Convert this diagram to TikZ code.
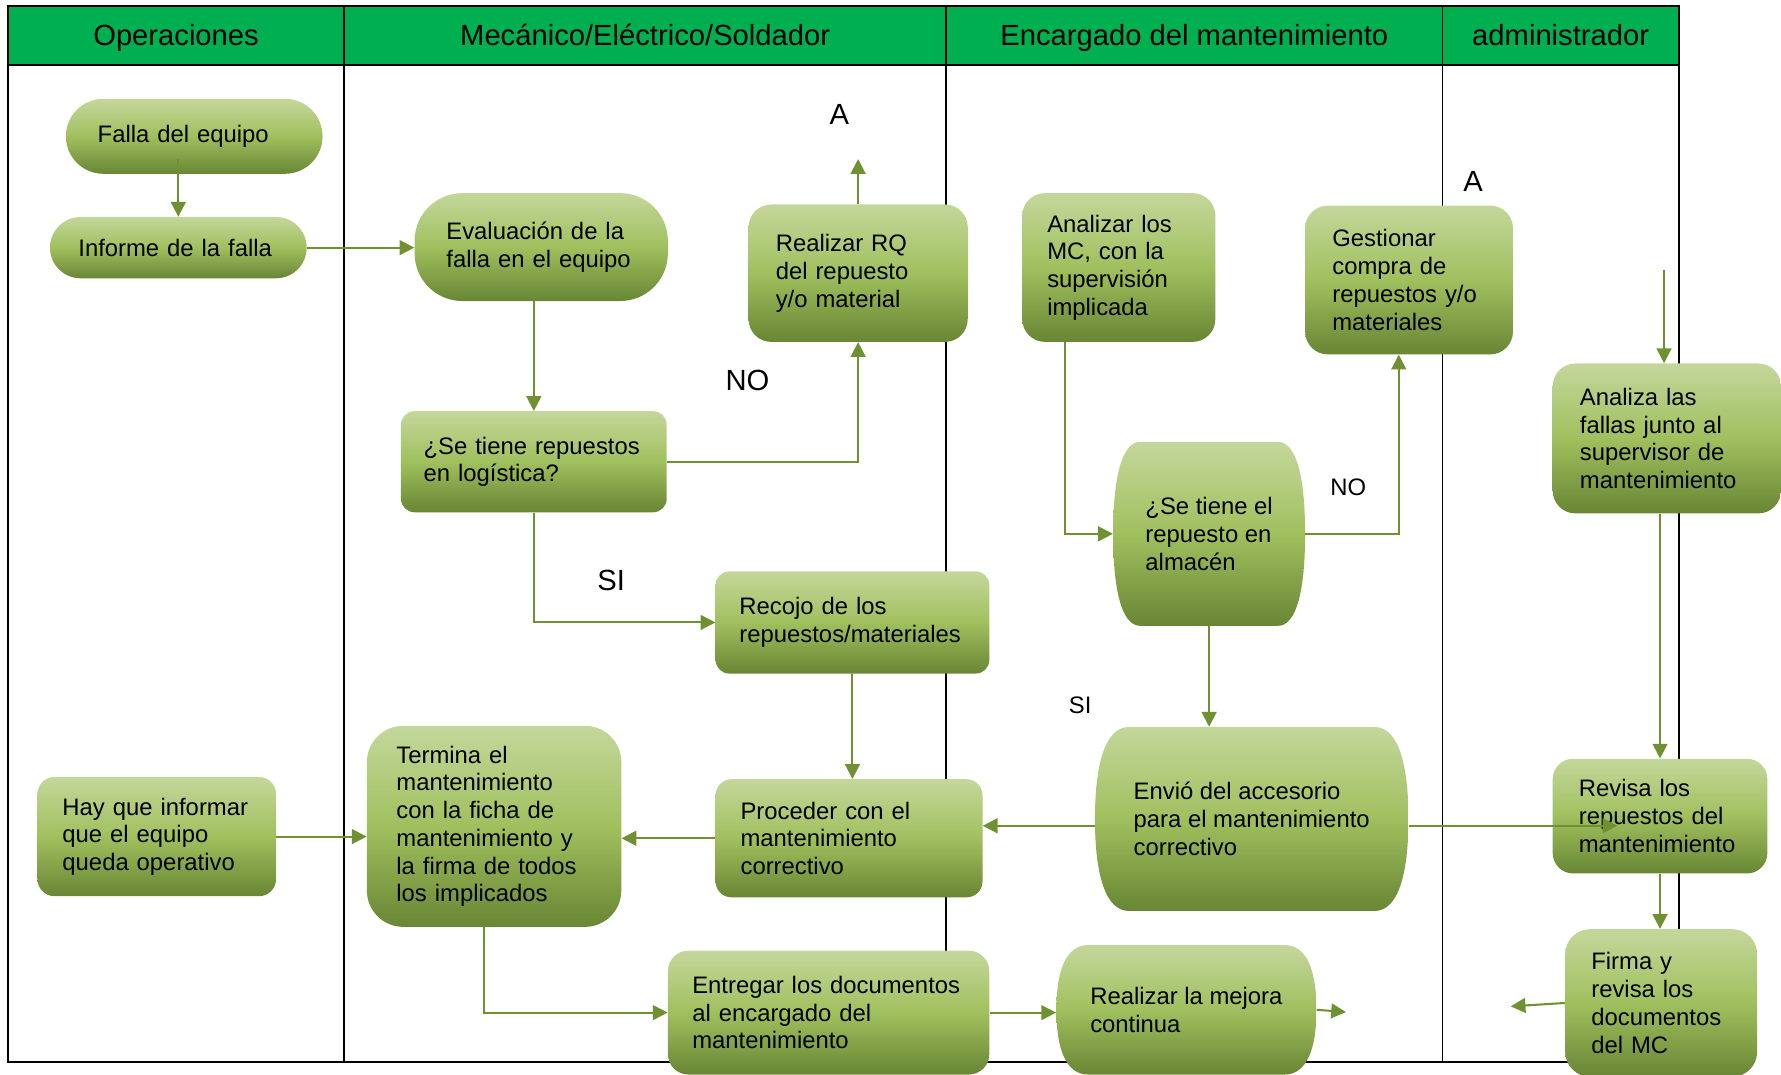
\documentclass[tikz,border=0pt]{standalone}
\usepackage{fontspec}
\setmainfont{Liberation Sans}
\usepackage{tikz}
\usetikzlibrary{arrows.meta, positioning, calc}
\usepackage{xcolor}

\definecolor{verdecab}{RGB}{0,176,80}
\definecolor{verdeclaro}{RGB}{196,215,155}
\definecolor{verdemedio}{RGB}{160,192,94}
\definecolor{verdeoscuro}{RGB}{104,134,52}
\definecolor{flechaverde}{RGB}{112,145,50}
\newcommand{\fcaja}{\fontsize{21}{24.4}\selectfont}
\newcommand{\fcab}{\fontsize{25.7}{30}\selectfont}
\newcommand{\fchica}{\fontsize{21}{24}\selectfont}

\tikzset{
  relleno/.style={top color=verdeclaro, bottom color=verdeoscuro, middle color=verdemedio},
  paso/.style={rectangle, rounded corners=20pt, relleno, inner xsep=23pt, inner ysep=0pt, align=left, font=\fcaja},
  % caja de lados curvos
  barril/.style={rectangle, inner sep=0pt, align=left, font=\fcaja, path picture={
    \path (path picture bounding box.north west) coordinate (bNO)
          (path picture bounding box.north east) coordinate (bNE)
          (path picture bounding box.south west) coordinate (bSO)
          (path picture bounding box.south east) coordinate (bSE)
          (path picture bounding box.west) coordinate (bO)
          (path picture bounding box.east) coordinate (bE);
    \shade[relleno] ([xshift=#1]bNO) -- ([xshift=-#1]bNE)
      .. controls ([xshift=-0.3*#1]bNE) and ($(bE)!0.6!(bNE)$) .. (bE)
      .. controls ($(bE)!0.6!(bSE)$) and ([xshift=-0.3*#1]bSE) .. ([xshift=-#1]bSE)
      -- ([xshift=#1]bSO)
      .. controls ([xshift=0.3*#1]bSO) and ($(bO)!0.6!(bSO)$) .. (bO)
      .. controls ($(bO)!0.6!(bNO)$) and ([xshift=0.3*#1]bNO) .. cycle;}},
  barril/.default=24pt,
  flecha/.style={draw=flechaverde, line width=1.8pt, -{Triangle[length=13pt,width=13pt]}},
  cabecera/.style={font=\fcab, anchor=base},
  etiqueta/.style={font=\fcab, anchor=base},
  etiquetachica/.style={font=\fchica, anchor=base},
}

\begin{document}
\begin{tikzpicture}[x=1pt, y=-1pt]
\path[use as bounding box, clip] (0,0) rectangle (1568,946);

% carriles
\fill[verdecab] (7,5) rectangle (1478,57);
\draw[line width=2pt] (7,5) rectangle (1478,935);
\draw[line width=2pt] (7,57) -- (1478,57);
\draw[line width=1.5pt] (303,5) -- (303,935);
\draw[line width=1.5pt] (833,5) -- (833,935);
\draw[line width=1.5pt] (1270,5) -- (1270,935);
\node[cabecera] (operaciones) at (155,40) {Operaciones};
\node[cabecera] (mecanico) at (568,40) {Mecánico/Eléctrico/Soldador};
\node[cabecera] (encargado) at (1051.5,40) {Encargado del mantenimiento};
\node[cabecera] (administrador) at (1374,40) {administrador};

% pasos
\node[paso, rounded corners=33pt, inner xsep=28pt, text width=170pt, minimum height=66pt] (falla) at (171,120) {Falla del equipo};
\node[paso, rounded corners=27pt, inner xsep=25pt, text width=176pt, minimum height=54pt] (informe) at (157,218) {Informe de la falla};
\node[paso, rounded corners=42pt, inner xsep=28pt, text width=167pt, minimum height=95pt] (evaluacion) at (476.5,217.5) {Evaluación de la\\falla en el equipo};
\node[paso, inner xsep=24pt, text width=145pt, minimum height=121pt] (rq) at (755.5,240.5) {Realizar RQ\\del repuesto\\y/o material};
\node[paso, rounded corners=12pt, inner xsep=20pt, text width=194pt, minimum height=89pt] (logistica) at (470,406.5) {¿Se tiene repuestos\\en logística?};
\node[paso, rounded corners=12pt, inner xsep=21pt, text width=199pt, minimum height=90pt] (recojo) at (750.5,548) {Recojo de los\\repuestos/materiales};
\node[paso, inner xsep=22pt, text width=126pt, minimum height=131pt] (analizar) at (985,235.5) {Analizar los\\MC, con la\\supervisión\\implicada};
\node[paso, inner xsep=24pt, text width=135pt, minimum height=131pt] (gestionar) at (1240.5,246.5) {Gestionar\\compra de\\repuestos y/o\\materiales};
\node[barril, minimum width=169pt, minimum height=162pt] (almacen) at (1064.5,470) {¿Se tiene el\\repuesto en\\almacén};
\node[paso, inner xsep=24pt, text width=153pt, minimum height=132pt] (analiza) at (1467.5,386) {Analiza las\\fallas junto al\\supervisor de\\mantenimiento};
\node[paso, rounded corners=18pt, inner xsep=23pt, text width=143pt, minimum height=101pt] (revisa) at (1461.5,718.5) {Revisa los\\repuestos del\\mantenimiento};
\node[paso, rounded corners=22pt, inner xsep=23pt, text width=123pt, minimum height=130pt] (firma) at (1462.5,883) {Firma y\\revisa los\\documentos\\del MC};
\node[barril=30pt, minimum width=276pt, minimum height=162pt] (envio) at (1102,721) {Envió del accesorio\\para el mantenimiento\\correctivo};
\node[paso, rounded corners=14pt, inner xsep=22pt, text width=191pt, minimum height=104pt] (proceder) at (747.5,738) {Proceder con el\\mantenimiento\\correctivo};
\node[paso, rounded corners=32pt, inner xsep=26pt, text width=172pt, minimum height=177pt] (termina) at (435,727.5) {Termina el\\mantenimiento\\con la ficha de\\mantenimiento y\\la firma de todos\\los implicados};
\node[paso, rounded corners=15pt, inner xsep=22pt, text width=166pt, minimum height=105pt] (informar) at (138,736.5) {Hay que informar\\que el equipo\\queda operativo};
\node[paso, rounded corners=18pt, inner xsep=21.5pt, text width=240pt, minimum height=109pt] (entregar) at (729.5,891.5) {Entregar los documentos\\al encargado del\\mantenimiento};
\node[barril=28pt, minimum width=229pt, minimum height=114pt] (mejora) at (1044.5,889) {Realizar la mejora\\continua};

% extremos libres
\coordinate (finRQ) at (755.5,140);
\coordinate (finMejora) at (1185,891);
\coordinate (finEnvio) at (1424,727);
\coordinate (inicioAnaliza) at (1465,238);
\coordinate (finFirma) at (1330,886);

% flechas
\draw[flecha] ([yshift=13pt]informe.north |- falla.south) -- (informe.north);
\draw[flecha] (informe.east) -- (informe.east -| evaluacion.west);
\draw[flecha] (evaluacion.south -| logistica.north) -- (logistica.north);
\draw[flecha] (logistica.east) -| (rq.south);
\draw[flecha] (rq.north) -- (finRQ);
\draw[flecha] (logistica.south) |- (recojo.west);
\draw[flecha] (recojo.south) -- (recojo.south |- proceder.north);
\draw[flecha] (proceder.west) -- (proceder.west -| termina.east);
\draw[flecha] (informar.east) -- (informar.east -| termina.west);
\draw[flecha] ([xshift=-9pt]termina.south) |- (entregar.west);
\draw[flecha] (entregar.east) -- (entregar.east -| mejora.west);
\draw[flecha] (mejora.east) -- (finMejora);
\draw[flecha] ([xshift=-47pt]analizar.south) |- (almacen.west);
\draw[flecha] (almacen.east) -| ([xshift=-9pt]gestionar.south);
\draw[flecha] (almacen.south) -- (almacen.south |- envio.north);
\draw[flecha] ([yshift=-6pt]envio.west) -- ([yshift=-6pt]envio.west -| proceder.east);
\draw[flecha] ([yshift=-6pt]envio.east) -- (finEnvio);
\draw[flecha] (inicioAnaliza) -- (inicioAnaliza |- analiza.north);
\draw[flecha] (revisa.north |- analiza.south) -- (revisa.north);
\draw[flecha] (revisa.south) -- (revisa.south |- firma.north);
\draw[flecha] (firma.west) -- (finFirma);

% etiquetas
\node[etiqueta] (a1) at (739,110) {A};
\node[etiqueta] (a2) at (1297,169) {A};
\node[etiqueta] (no1) at (658,344) {NO};
\node[etiqueta] (si1) at (538,520) {SI};
\node[etiquetachica] (no2) at (1187,436) {NO};
\node[etiquetachica] (si2) at (951,628) {SI};
\end{tikzpicture}
\end{document}
